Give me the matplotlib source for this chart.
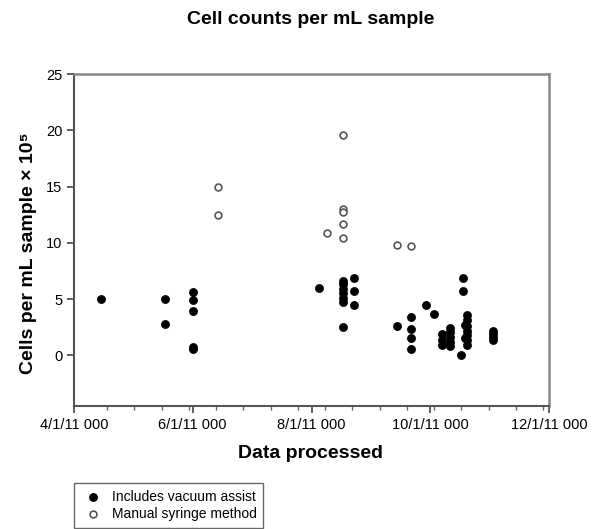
import datetime as dt

import matplotlib
matplotlib.use("Agg")
import matplotlib.pyplot as plt

plt.rcParams['font.family'] = ['Liberation Sans', 'DejaVu Sans']

# vacuum assist samples (filled)
vac_dates = [
    "2011-04-15",
    "2011-05-18", "2011-05-18",
    "2011-06-01", "2011-06-01", "2011-06-01", "2011-06-01", "2011-06-01",
    "2011-08-05",
    "2011-08-17", "2011-08-17", "2011-08-17", "2011-08-17", "2011-08-17",
    "2011-08-17", "2011-08-17",
    "2011-08-23", "2011-08-23", "2011-08-23",
    "2011-09-14",
    "2011-09-21", "2011-09-21", "2011-09-21", "2011-09-21",
    "2011-09-29",
    "2011-10-03",
    "2011-10-07", "2011-10-07", "2011-10-07",
    "2011-10-11", "2011-10-11", "2011-10-11", "2011-10-11", "2011-10-11",
    "2011-10-17",
    "2011-10-18", "2011-10-18",
    "2011-10-19", "2011-10-19",
    "2011-10-20", "2011-10-20", "2011-10-20", "2011-10-20", "2011-10-20",
    "2011-10-20", "2011-10-20",
    "2011-11-02", "2011-11-02", "2011-11-02", "2011-11-02",
]
vac_values = [
    5.0,
    5.05, 2.75,
    5.6, 4.9, 3.9, 0.75, 0.6,
    6.0,
    6.6, 6.3, 5.9, 5.5, 5.1, 4.7, 2.55,
    6.85, 5.75, 4.45,
    2.65,
    3.4, 2.35, 1.55, 0.55,
    4.5,
    3.65,
    1.9, 1.35, 0.9,
    2.4, 2.05, 1.65, 1.2, 0.8,
    0.05,
    6.85, 5.75,
    2.7, 1.5,
    3.55, 3.1, 2.65, 2.2, 1.8, 1.35, 0.9,
    2.2, 1.9, 1.6, 1.35,
]

# manual syringe samples (open)
syr_dates = [
    "2011-06-14", "2011-06-14",
    "2011-08-09",
    "2011-08-17", "2011-08-17", "2011-08-17", "2011-08-17", "2011-08-17",
    "2011-09-14",
    "2011-09-21",
]
syr_values = [
    15.0, 12.45,
    10.9,
    19.6, 13.0, 12.75, 11.7, 10.4,
    9.85,
    9.7,
]

major_dates = ["2011-04-01", "2011-06-01", "2011-08-01", "2011-10-01", "2011-12-01"]
major_labels = ["4/1/11 000", "6/1/11 000", "8/1/11 000", "10/1/11 000", "12/1/11 000"]


def to_dt(lst):
    return [dt.datetime.strptime(s, "%Y-%m-%d") for s in lst]


fig = plt.figure(figsize=(5.98, 5.29), dpi=100)
ax = fig.add_axes([74 / 598, 1 - 406 / 529, 475 / 598, 332 / 529])

ax.scatter(to_dt(vac_dates), vac_values, s=34, color='black', edgecolors='black',
           linewidths=0.5, zorder=3, label='Includes vacuum assist')
ax.scatter(to_dt(syr_dates), syr_values, s=24, facecolors='white', edgecolors='#555555',
           linewidths=1.2, zorder=3, label='Manual syringe method')

ax.set_xlim(dt.datetime(2011, 4, 1), dt.datetime(2011, 12, 1))
ax.set_ylim(-4.5, 25)

ax.set_xticks(to_dt(major_dates))
ax.set_xticklabels(major_labels)
minor = []
d = dt.datetime(2011, 4, 18)
while d < dt.datetime(2011, 12, 1):
    minor.append(d)
    d += dt.timedelta(days=14)
ax.set_xticks(minor, minor=True)
ax.set_yticks([0, 5, 10, 15, 20, 25])

ax.tick_params(axis='both', which='major', labelsize=10.5, colors='#444444',
               labelcolor='black', length=5, width=1.2, direction='out')
ax.tick_params(axis='x', which='minor', length=3, width=1.0, colors='#666666')

for side in ['left', 'bottom']:
    ax.spines[side].set_color('#555555')
    ax.spines[side].set_linewidth(1.5)
for side in ['top', 'right']:
    ax.spines[side].set_color('#888888')
    ax.spines[side].set_linewidth(1.8)

fig.text(311 / 598, 1 - 20 / 529, "Cell counts per mL sample", ha='center', va='center',
         fontsize=14, fontweight='bold')
fig.text(310 / 598, 1 - 454 / 529, "Data processed", ha='center', va='center',
         fontsize=14, fontweight='bold')
fig.text(29 / 598, 1 - 253 / 529, "Cells per mL sample \u00d7 10\u2075", ha='center', va='center',
         rotation=90, fontsize=14, fontweight='bold')

leg = fig.legend(loc='upper left', bbox_to_anchor=(74 / 598, 1 - 483 / 529), fontsize=10,
                 frameon=True, fancybox=False, edgecolor='#444444', handletextpad=0.4,
                 borderpad=0.5, labelspacing=0.2, handlelength=1.8, borderaxespad=0)
leg.get_frame().set_linewidth(1.0)

fig.savefig("out.png", dpi=100)
